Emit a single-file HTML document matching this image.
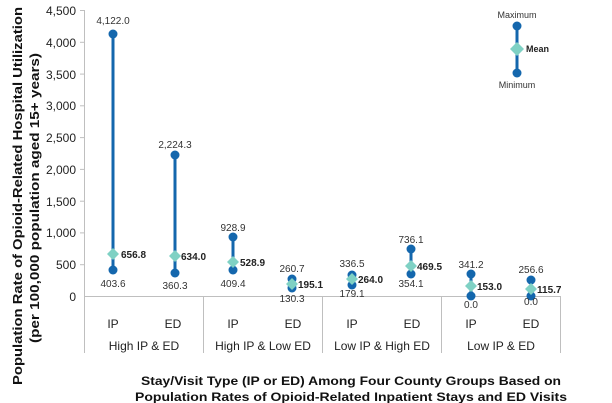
<!DOCTYPE html>
<html><head><meta charset="utf-8"><style>
body{margin:0;background:#fff}
svg{display:block;font-family:"Liberation Sans",Arial,sans-serif}
.v{font-size:10px;fill:#333;text-anchor:middle}
.m{font-size:10px;font-weight:bold;fill:#222}
.t{font-size:12px;fill:#222;text-anchor:end}
.c{font-size:12px;fill:#222;text-anchor:middle}
</style></head><body>
<svg width="612" height="403" viewBox="0 0 612 403">
<g stroke="#bfbfbf" stroke-width="1">
<line x1="84.5" y1="10" x2="84.5" y2="353"/>
<line x1="84" y1="296.5" x2="561" y2="296.5"/>
<line x1="203.5" y1="296" x2="203.5" y2="353"/>
<line x1="322.5" y1="296" x2="322.5" y2="353"/>
<line x1="441.5" y1="296" x2="441.5" y2="353"/>
<line x1="560.5" y1="296" x2="560.5" y2="353"/>
<line x1="80" y1="10.5" x2="84" y2="10.5"/><line x1="80" y1="42.3" x2="84" y2="42.3"/><line x1="80" y1="74.1" x2="84" y2="74.1"/><line x1="80" y1="105.8" x2="84" y2="105.8"/><line x1="80" y1="137.6" x2="84" y2="137.6"/><line x1="80" y1="169.4" x2="84" y2="169.4"/><line x1="80" y1="201.2" x2="84" y2="201.2"/><line x1="80" y1="232.9" x2="84" y2="232.9"/><line x1="80" y1="264.7" x2="84" y2="264.7"/>
</g>
<g class="t">
<text x="76" y="15">4,500</text><text x="76" y="47">4,000</text><text x="76" y="79">3,500</text><text x="76" y="110">3,000</text><text x="76" y="142">2,500</text><text x="76" y="174">2,000</text><text x="76" y="206">1,500</text><text x="76" y="237">1,000</text><text x="76" y="269">500</text><text x="76" y="301">0</text>
</g>
<g stroke="#1467ad" stroke-width="3">
<line x1="113" y1="34" x2="113" y2="270"/>
<line x1="175" y1="155" x2="175" y2="273"/>
<line x1="233" y1="237" x2="233" y2="270"/>
<line x1="292" y1="279" x2="292" y2="288"/>
<line x1="352" y1="275" x2="352" y2="285"/>
<line x1="411" y1="249" x2="411" y2="274"/>
<line x1="471" y1="274" x2="471" y2="296"/>
<line x1="531" y1="280" x2="531" y2="296"/>
<line x1="517" y1="26" x2="517" y2="73"/>
</g>
<g fill="#1467ad">
<circle cx="113" cy="34" r="4.5"/><circle cx="113" cy="270" r="4.5"/>
<circle cx="175" cy="155" r="4.5"/><circle cx="175" cy="273" r="4.5"/>
<circle cx="233" cy="237" r="4.5"/><circle cx="233" cy="270" r="4.5"/>
<circle cx="292" cy="279" r="4.5"/><circle cx="292" cy="288" r="4.5"/>
<circle cx="352" cy="275" r="4.5"/><circle cx="352" cy="285" r="4.5"/>
<circle cx="411" cy="249" r="4.5"/><circle cx="411" cy="274" r="4.5"/>
<circle cx="471" cy="274" r="4.5"/><circle cx="471" cy="296" r="4.5"/>
<circle cx="531" cy="280" r="4.5"/><circle cx="531" cy="296" r="4.5"/>
<circle cx="517" cy="26" r="4.5"/><circle cx="517" cy="73" r="4.5"/>
</g>
<g fill="#7fd1c4">
<polygon points="113,248 119,254 113,260 107,254"/>
<polygon points="175,250 181,256 175,262 169,256"/>
<polygon points="233,256 239,262 233,268 227,262"/>
<polygon points="292,278 298,284 292,290 286,284"/>
<polygon points="352,273 358,279 352,285 346,279"/>
<polygon points="411,260 417,266 411,272 405,266"/>
<polygon points="471,280 477,286 471,292 465,286"/>
<polygon points="531,283 537,289 531,295 525,289"/>
<polygon points="517,42 524,49 517,56 510,49"/>
</g>
<g class="v">
<text x="113" y="24">4,122.0</text><text x="113" y="287">403.6</text>
<text x="175" y="148">2,224.3</text><text x="175" y="289">360.3</text>
<text x="233" y="231">928.9</text><text x="233" y="287">409.4</text>
<text x="292" y="272">260.7</text><text x="292" y="302">130.3</text>
<text x="352" y="267">336.5</text><text x="352" y="297">179.1</text>
<text x="411" y="243">736.1</text><text x="411" y="287">354.1</text>
<text x="471" y="268">341.2</text><text x="471" y="308">0.0</text>
<text x="531" y="273">256.6</text><text x="531" y="305">0.0</text>
<text x="517" y="18" style="font-size:9px">Maximum</text>
<text x="517" y="88" style="font-size:9px">Minimum</text>
</g>
<g class="m">
<text x="121" y="258">656.8</text><text x="181" y="260">634.0</text>
<text x="240" y="266">528.9</text><text x="298" y="288">195.1</text>
<text x="358" y="283">264.0</text><text x="417" y="270">469.5</text>
<text x="477" y="290">153.0</text><text x="537" y="293">115.7</text>
<text x="526" y="52" style="font-size:9px">Mean</text>
</g>
<g class="c">
<text x="113" y="328">IP</text><text x="173" y="328">ED</text>
<text x="233" y="328">IP</text><text x="293" y="328">ED</text>
<text x="352" y="328">IP</text><text x="412" y="328">ED</text>
<text x="471" y="328">IP</text><text x="531" y="328">ED</text>
<text x="144" y="350">High IP &amp; ED</text>
<text x="263" y="350">High IP &amp; Low ED</text>
<text x="382" y="350">Low IP &amp; High ED</text>
<text x="501" y="350">Low IP &amp; ED</text>
</g>
<g style="font-size:12px;font-weight:bold;fill:#111" text-anchor="middle">
<text x="351" y="385" textLength="420" lengthAdjust="spacingAndGlyphs">Stay/Visit Type (IP or ED) Among Four County Groups Based on</text>
<text x="351" y="401" textLength="432" lengthAdjust="spacingAndGlyphs">Population Rates of Opioid-Related Inpatient Stays and ED Visits</text>
<text transform="translate(22,196) rotate(-90)" style="font-size:13px" textLength="378" lengthAdjust="spacingAndGlyphs">Population Rate of Opioid-Related Hospital Utilization</text>
<text transform="translate(39,198) rotate(-90)" style="font-size:13px" textLength="290" lengthAdjust="spacingAndGlyphs">(per 100,000 population aged 15+ years)</text>
</g>
</svg>
</body></html>
